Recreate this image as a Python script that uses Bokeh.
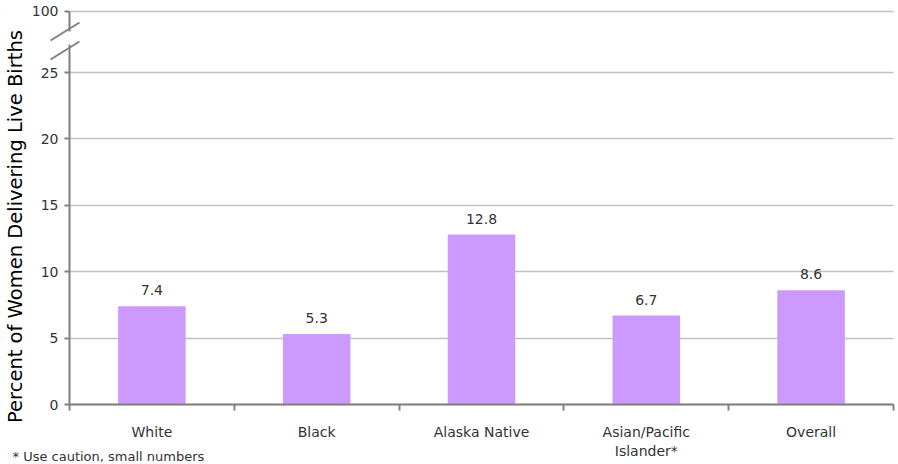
import math
from bokeh.plotting import figure
from bokeh.models import (FixedTicker, ColumnDataSource, LabelSet, Label, Arrow, Range1d,
                          BoxAnnotation)
from bokeh.core.properties import value
from bokeh.embed import file_html
from bokeh.resources import INLINE

categories = ["White", "Black", "Alaska Native", "Asian/Pacific\nIslander*", "Overall"]
values = [7.4, 5.3, 12.8, 6.7, 8.6]
value_labels = ["7.4", "5.3", "12.8", "6.7", "8.6"]
y_ticks = [0, 5, 10, 15, 20, 25, 29.6]
y_tick_labels = ["0", "5", "10", "15", "20", "25", "100"]
footnote = "* Use caution, small numbers"
y_title = "Percent of Women Delivering Live Births"

FONT = "DejaVu Sans"
TITLE_FONT = "DejaVu Sans"
positions = [i + 1 for i in range(len(categories))]
src = ColumnDataSource(dict(x=positions, top=values, label=value_labels))

# The whole canvas is the frame; axes sit at fixed locations inside it.
W, H = 898, 464
axis_x_px = 69          # canvas x of the y axis
right_px = 893          # canvas x of the right end of the x axis
zero_y_px = 404         # canvas y (from top) of value 0
px_per_unit = 13.28
px_per_cat = (right_px - axis_x_px) / len(categories)
x_start = 0.5 - axis_x_px / px_per_cat
x_end = len(categories) + 0.5 + (W - right_px) / px_per_cat
y_start = -(H - zero_y_px) / px_per_unit
y_end = zero_y_px / px_per_unit

p = figure(width=W, height=H, output_backend="svg", toolbar_location=None,
           x_range=Range1d(x_start, x_end), y_range=Range1d(y_start, y_end),
           min_border=0)
p.outline_line_color = None
p.background_fill_color = "white"
p.border_fill_color = "white"

p.ygrid.grid_line_color = "#C0C0C0"
p.ygrid.grid_line_width = 1.5
p.xgrid.grid_line_color = None
# hide grid outside the plotting area (left of y axis / right of x axis end)
p.add_layout(BoxAnnotation(right=0.5, fill_color="white", fill_alpha=1.0,
                           line_color=None, level="underlay"))
p.add_layout(BoxAnnotation(left=len(categories) + 0.5, fill_color="white", fill_alpha=1.0,
                           line_color=None, level="underlay"))

p.vbar(x="x", top="top", width=0.41, bottom=0, source=src,
       fill_color="#CC99FF", line_color=None)

p.add_layout(LabelSet(x="x", y="top", text="label", source=src, y_offset=11,
                      text_align="center", text_baseline="bottom",
                      text_font=value(FONT), text_font_size="14px",
                      text_color="#333333"))

# x axis at y = 0
xa = p.xaxis[0]
xa.fixed_location = 0
xa.bounds = (0.5, len(categories) + 0.5)
xa.ticker = FixedTicker(ticks=positions,
                        minor_ticks=[i + 0.5 for i in range(len(categories) + 1)])
xa.major_label_overrides = {pos: c for pos, c in zip(positions, categories)}
xa.major_tick_line_color = None
xa.major_tick_out = 0
xa.major_tick_in = 0
xa.minor_tick_line_color = "#808080"
xa.minor_tick_line_width = 2
xa.minor_tick_out = 6
xa.minor_tick_in = 0
xa.axis_line_color = "#808080"
xa.axis_line_width = 2
xa.major_label_standoff = 13
xa.major_label_text_font = FONT
xa.major_label_text_font_size = "14px"
xa.major_label_text_color = "#333333"

# y axis at x = 0.5
ya = p.yaxis[0]
ya.fixed_location = 0.5
ya.bounds = (0, y_ticks[-1])
ya.ticker = FixedTicker(ticks=y_ticks, minor_ticks=[])
ya.major_label_overrides = {t: l for t, l in zip(y_ticks, y_tick_labels)}
ya.axis_line_color = "#808080"
ya.axis_line_width = 2
ya.major_tick_line_color = "#808080"
ya.major_tick_line_width = 2
ya.major_tick_out = 5
ya.major_tick_in = 0
ya.minor_tick_line_color = None
ya.major_label_standoff = 6
ya.major_label_text_font = FONT
ya.major_label_text_font_size = "14px"
ya.major_label_text_color = "#333333"

# axis break marks (screen units from canvas bottom-left)
p.add_layout(Arrow(end=None, start_units="screen", end_units="screen",
                   x_start=axis_x_px, y_start=H - 44, x_end=axis_x_px, y_end=H - 31,
                   line_color="white", line_width=5))
p.add_layout(Arrow(end=None, start_units="screen", end_units="screen",
                   x_start=50, y_start=H - 40, x_end=79, y_end=H - 22,
                   line_color="#808080", line_width=2))
p.add_layout(Arrow(end=None, start_units="screen", end_units="screen",
                   x_start=50, y_start=H - 59, x_end=79, y_end=H - 41,
                   line_color="#808080", line_width=2))

p.add_layout(Label(x=15, y=H - 226, x_units="screen", y_units="screen", text=y_title,
                   angle=math.pi / 2, text_align="center", text_baseline="middle",
                   text_font=TITLE_FONT, text_font_size="19.5px", text_color="black"))

p.add_layout(Label(x=12, y=1, x_units="screen", y_units="screen", text=footnote,
                   text_align="left", text_baseline="bottom",
                   text_font=FONT, text_font_size="13px", text_color="#333333"))

open("out.html", "w").write(file_html(p, INLINE))
